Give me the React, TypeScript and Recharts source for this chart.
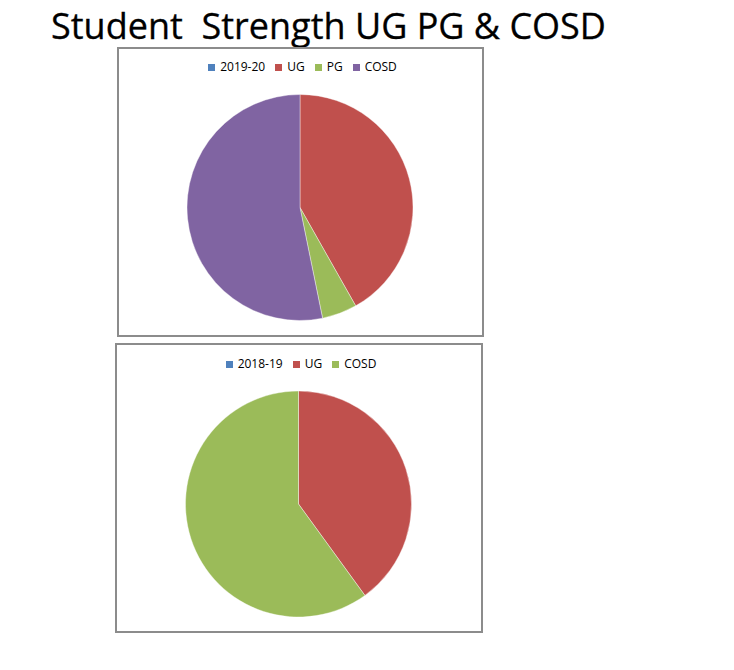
import React from 'react';
import { PieChart, Pie, Cell, Legend } from 'recharts';

const title = 'Student  Strength UG PG & COSD';
const palette = ['#4F81BD', '#C0504D', '#9BBB59', '#8064A2'];

const series1Name = '2019-20';
const categories1 = ['UG', 'PG', 'COSD'];
const values1 = [41.8, 5.0, 53.2];

const series2Name = '2018-19';
const categories2 = ['UG', 'COSD'];
const values2 = [40.0, 60.0];

const data1 = categories1.map((name, i) => ({ name, value: values1[i] }));
const data2 = categories2.map((name, i) => ({ name, value: values2[i] }));

const FONT = '"Open Sans", sans-serif';

const LegendContent = ({ labels, shift }: { labels: string[]; shift: number }) => (
  <div
    style={{
      display: 'flex',
      justifyContent: 'center',
      alignItems: 'center',
      fontFamily: FONT,
      fontSize: 12,
      color: '#000',
      lineHeight: '16px',
      marginLeft: shift,
    }}
  >
    {labels.map((l, i) => (
      <div
        key={l}
        style={{ display: 'flex', alignItems: 'center', marginRight: i < labels.length - 1 ? 10 : 0 }}
      >
        <span style={{ width: 7, height: 7, background: palette[i], marginRight: 5, display: 'inline-block' }} />
        <span>{l}</span>
      </div>
    ))}
  </div>
);

const ChartBox = ({
  left,
  top,
  width,
  height,
  seriesName,
  data,
  cx,
  cy,
  legendTop,
  legendShift,
}: any) => {
  const innerW = width - 4;
  const innerH = height - 4;
  const labels = [seriesName, ...data.map((d: any) => d.name)];
  return (
    <div
      style={{
        position: 'absolute',
        left,
        top,
        width,
        height,
        boxSizing: 'border-box',
        border: '2px solid #8c8c8c',
        background: '#fff',
      }}
    >
      <PieChart width={innerW} height={innerH} margin={{ top: 0, right: 0, bottom: 0, left: 0 }}>
        <Legend
          verticalAlign="middle"
          align="center"
          layout="horizontal"
          content={() => <LegendContent labels={labels} shift={legendShift} />}
          wrapperStyle={{ top: legendTop, left: 0, width: innerW }}
        />
        <Pie
          data={data}
          dataKey="value"
          nameKey="name"
          cx={cx}
          cy={cy}
          outerRadius={113}
          startAngle={90}
          endAngle={-270}
          stroke="#ffffff"
          strokeWidth={0.4}
          isAnimationActive={false}
        >
          {data.map((d: any, i: number) => (
            <Cell key={d.name} fill={palette[i + 1]} />
          ))}
        </Pie>
      </PieChart>
    </div>
  );
};

export default function App() {
  return (
    <div style={{ position: 'absolute', left: 0, top: 0, width: 734, height: 670, background: '#fff' }}>
      <div
        style={{
          position: 'absolute',
          left: 51,
          top: 8,
          fontFamily: FONT,
          fontSize: 36,
          lineHeight: '36px',
          whiteSpace: 'pre',
          color: '#000',
          WebkitTextStroke: '0.3px #000',
        }}
      >
        {title}
      </div>
      <ChartBox
        left={117}
        top={47}
        width={367}
        height={290}
        seriesName={series1Name}
        data={data1}
        cx={181}
        cy={158.5}
        legendTop={10}
        legendShift={4}
      />
      <ChartBox
        left={115}
        top={343}
        width={368}
        height={290}
        seriesName={series2Name}
        data={data2}
        cx={181.5}
        cy={159}
        legendTop={11}
        legendShift={4}
      />
    </div>
  );
}
